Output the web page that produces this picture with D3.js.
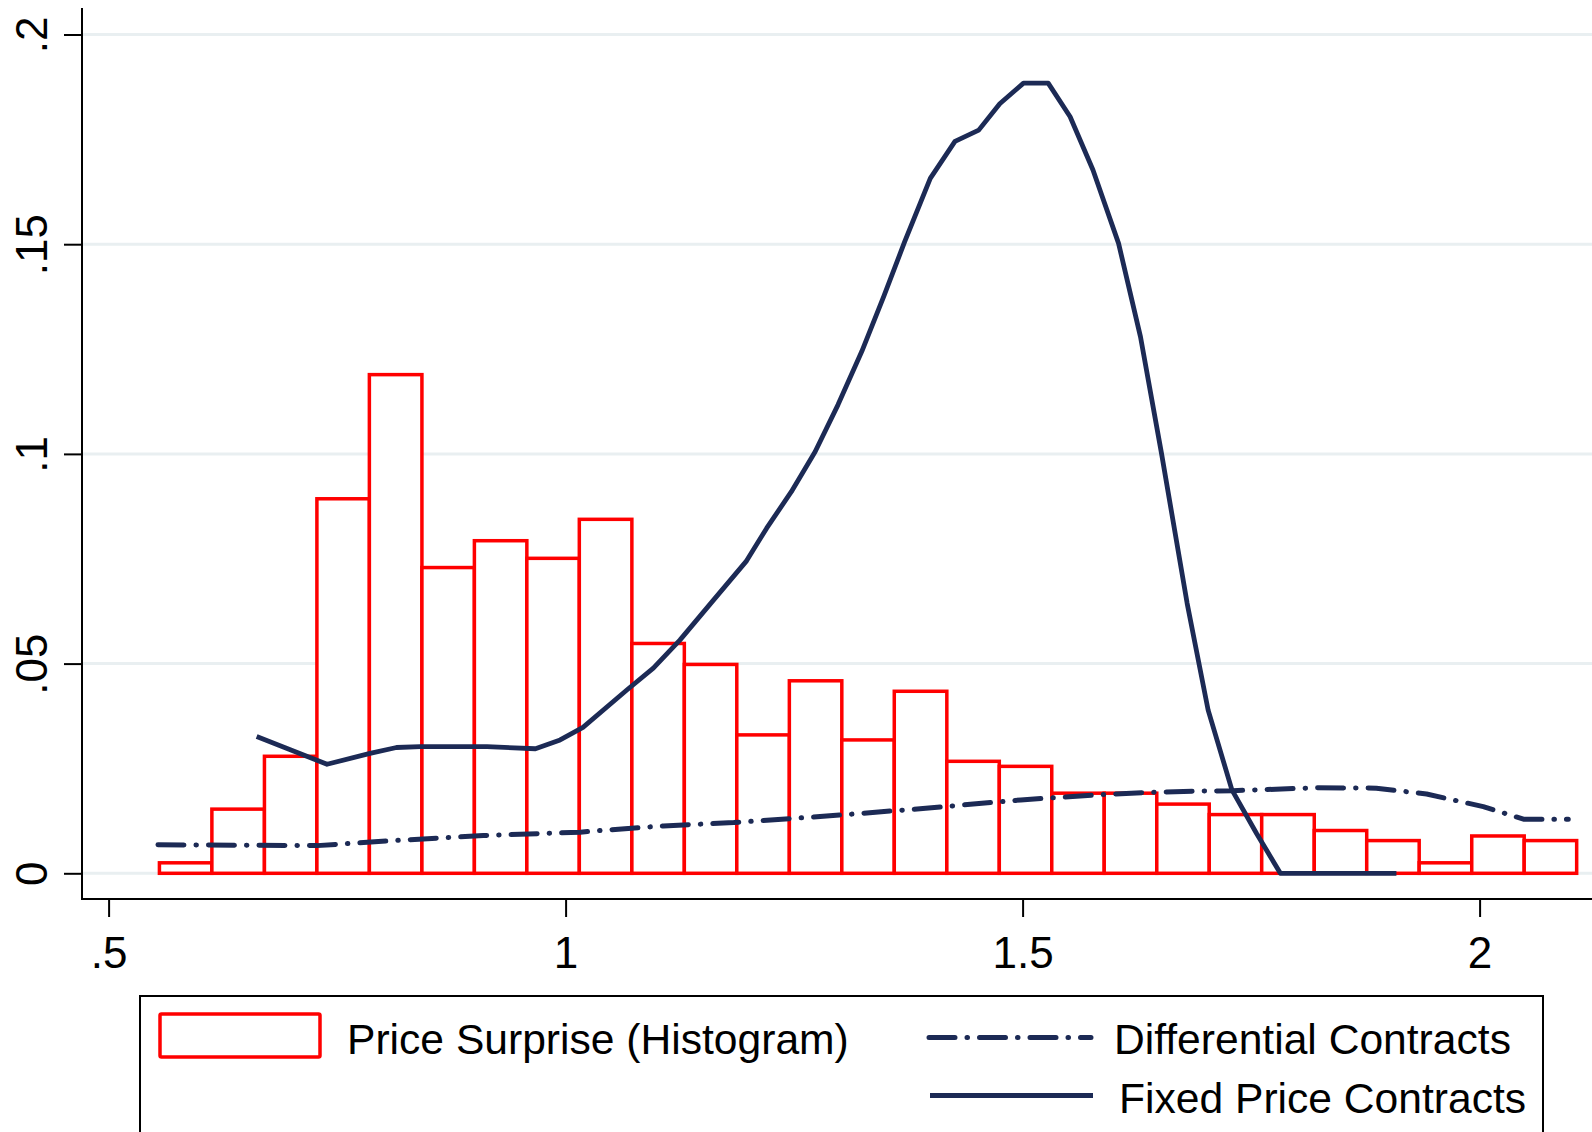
<!DOCTYPE html>
<html>
<head>
<meta charset="utf-8">
<script src="https://cdn.jsdelivr.net/npm/d3@7"></script>
<style>
  html, body { margin: 0; padding: 0; background: #ffffff; }
  svg { display: block; font-family: "Liberation Sans", Arial, Helvetica, sans-serif; }
</style>
</head>
<body>
<svg id="chart" width="1592" height="1132"></svg>
<script>
// Histogram of the price surprise: bin edges and bar heights (fraction)
const binEdges = [0.5556, 0.6130, 0.6705, 0.7279, 0.7853, 0.8428, 0.9002, 0.9576, 1.0150,
                  1.0725, 1.1299, 1.1873, 1.2448, 1.3022, 1.3596, 1.4171, 1.4745, 1.5319,
                  1.5893, 1.6468, 1.7042, 1.7616, 1.8191, 1.8765, 1.9339, 1.9914, 2.0488, 2.1062];
const binHeights = [0.0025, 0.0153, 0.0279, 0.0893, 0.1189, 0.0729, 0.0793, 0.0751, 0.0844,
                    0.0548, 0.0498, 0.0330, 0.0459, 0.0318, 0.0434, 0.0267, 0.0255, 0.0191,
                    0.0191, 0.0165, 0.0140, 0.0140, 0.0102, 0.0078, 0.0025, 0.0089, 0.0078];

// Density of differential contracts
const diffX = [0.554, 0.728, 0.804, 0.910, 1.016, 1.038, 1.107, 1.184, 1.289, 1.394, 1.498,
               1.582, 1.639, 1.694, 1.730, 1.822, 1.887, 1.942, 2.004, 2.048, 2.097];
const diffY = [0.0068, 0.0066, 0.0077, 0.0090, 0.0098, 0.0102, 0.0113, 0.0121, 0.0137, 0.0155, 0.0175,
               0.0187, 0.0193, 0.0196, 0.0197, 0.0204, 0.0203, 0.0189, 0.0159, 0.0129, 0.0129];

// Density of fixed price contracts
const fixedX = [0.662, 0.739, 0.786, 0.815, 0.841, 0.914, 0.967, 0.994, 1.019, 1.067, 1.096,
                1.125, 1.162, 1.198, 1.220, 1.247, 1.273, 1.298, 1.324, 1.348, 1.371, 1.399,
                1.426, 1.452, 1.475, 1.501, 1.528, 1.552, 1.577, 1.605, 1.629, 1.652, 1.680,
                1.703, 1.729, 1.756, 1.782, 1.909];
const fixedY = [0.0326, 0.0260, 0.0286, 0.0300, 0.0302, 0.0302, 0.0297, 0.0318, 0.0348, 0.0437, 0.0489,
                0.0556, 0.0652, 0.0745, 0.0823, 0.0910, 0.1005, 0.1117, 0.1244, 0.1375, 0.1506, 0.1657,
                0.1745, 0.1772, 0.1835, 0.1884, 0.1884, 0.1804, 0.1677, 0.1502, 0.1279, 0.1001, 0.0644,
                0.0389, 0.0199, 0.0095, 0.0000, 0.0000];

const xTicks = [0.5, 1, 1.5, 2];
const xTickLabels = [".5", "1", "1.5", "2"];
const yTicks = [0, 0.05, 0.1, 0.15, 0.2];
const yTickLabels = ["0", ".05", ".1", ".15", ".2"];

const legendLabels = ["Price Surprise (Histogram)", "Differential Contracts", "Fixed Price Contracts"];

const RED = "#ff0000";
const NAVY = "#1c2a55";
const GRID = "#e9eff1";
const DASHDOT = "26 12 0.5 12";

const svg = d3.select("#chart");
const W = 1592, H = 1132;
const axisX = 82, axisY = 899;

const x = d3.scaleLinear().domain([0.5, 2]).range([108.6, 1479.6]);
const y = d3.scaleLinear().domain([0, 0.2]).range([873.3, 34.5]);

// gridlines
svg.append("g").selectAll("line").data(yTicks).join("line")
  .attr("x1", axisX).attr("x2", W)
  .attr("y1", d => y(d)).attr("y2", d => y(d))
  .attr("stroke", GRID).attr("stroke-width", 3);

// histogram bars
const bins = binHeights.map((h, i) => ({ x0: binEdges[i], x1: binEdges[i + 1], h }));
svg.append("g").selectAll("rect").data(bins).join("rect")
  .attr("x", d => x(d.x0))
  .attr("y", d => y(d.h))
  .attr("width", d => x(d.x1) - x(d.x0))
  .attr("height", d => y(0) - y(d.h))
  .attr("fill", "#ffffff")
  .attr("stroke", RED)
  .attr("stroke-width", 3.5);

// density lines
const line = d3.line().x(d => x(d[0])).y(d => y(d[1]));
svg.append("path")
  .datum(diffX.map((v, i) => [v, diffY[i]]))
  .attr("d", line)
  .attr("fill", "none").attr("stroke", NAVY).attr("stroke-width", 5)
  .attr("stroke-linecap", "round").attr("stroke-linejoin", "round")
  .attr("stroke-dasharray", DASHDOT);

svg.append("path")
  .datum(fixedX.map((v, i) => [v, fixedY[i]]))
  .attr("d", line)
  .attr("fill", "none").attr("stroke", NAVY).attr("stroke-width", 4.8)
  .attr("stroke-linejoin", "round");

// y axis
const yAxis = svg.append("g")
  .attr("transform", `translate(${axisX},0)`)
  .call(d3.axisLeft(y).tickValues(yTicks).tickFormat((d, i) => yTickLabels[i])
        .tickSize(18).tickSizeOuter(0));
yAxis.select(".domain").remove();
yAxis.selectAll(".tick line").attr("stroke", "#000").attr("stroke-width", 2);
yAxis.selectAll(".tick text")
  .attr("x", null).attr("dy", null)
  .attr("text-anchor", "middle")
  .attr("transform", "translate(-35,0) rotate(-90)")
  .attr("fill", "#000")
  .style("font-size", "44px");

// x axis
const xAxis = svg.append("g")
  .attr("transform", `translate(0,${axisY})`)
  .call(d3.axisBottom(x).tickValues(xTicks).tickFormat((d, i) => xTickLabels[i])
        .tickSize(18).tickSizeOuter(0));
xAxis.select(".domain").remove();
xAxis.selectAll(".tick line").attr("stroke", "#000").attr("stroke-width", 2);
xAxis.selectAll(".tick text")
  .attr("y", 69).attr("dy", null)
  .attr("fill", "#000")
  .style("font-size", "44px");

// axis lines
svg.append("line").attr("x1", axisX).attr("x2", axisX).attr("y1", 8).attr("y2", axisY + 1)
  .attr("stroke", "#000").attr("stroke-width", 2);
svg.append("line").attr("x1", axisX - 1).attr("x2", W).attr("y1", axisY).attr("y2", axisY)
  .attr("stroke", "#000").attr("stroke-width", 2);

// legend
const lg = svg.append("g");
lg.append("rect").attr("x", 140).attr("y", 996).attr("width", 1403).attr("height", 160)
  .attr("fill", "#fff").attr("stroke", "#000").attr("stroke-width", 2);
lg.append("rect").attr("x", 160).attr("y", 1014).attr("width", 160).attr("height", 43)
  .attr("rx", 1.5).attr("fill", "#fff").attr("stroke", RED).attr("stroke-width", 3.5);
lg.append("line").attr("x1", 929).attr("x2", 1091).attr("y1", 1037.5).attr("y2", 1037.5)
  .attr("stroke", NAVY).attr("stroke-width", 5).attr("stroke-linecap", "round")
  .attr("stroke-dasharray", DASHDOT);
lg.append("line").attr("x1", 930).attr("x2", 1093).attr("y1", 1095.5).attr("y2", 1095.5)
  .attr("stroke", NAVY).attr("stroke-width", 4.8);
lg.selectAll("text").data([
  { t: legendLabels[0], x: 347, y: 1054 },
  { t: legendLabels[1], x: 1114, y: 1054 },
  { t: legendLabels[2], x: 1119, y: 1113 }
]).join("text")
  .attr("x", d => d.x).attr("y", d => d.y)
  .attr("fill", "#000")
  .style("font-size", "42.6px")
  .text(d => d.t);
</script>
</body>
</html>
